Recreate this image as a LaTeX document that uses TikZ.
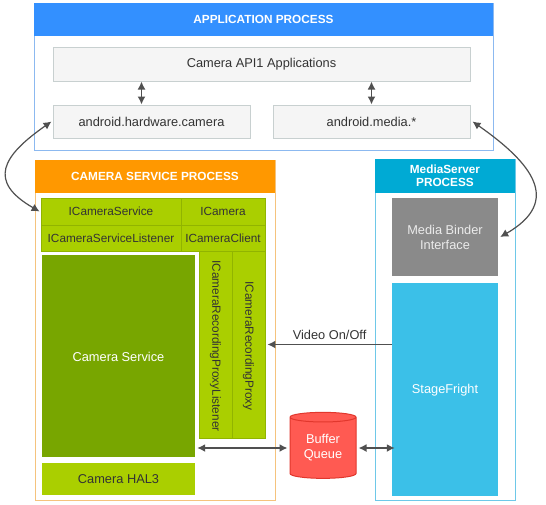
\documentclass[tikz,border=0pt]{standalone}
\usepackage{fontspec}
\setmainfont{Liberation Sans}
\usetikzlibrary{shapes.geometric,arrows.meta}

\definecolor{appblue}{RGB}{51,144,255}
\definecolor{appline}{RGB}{140,185,240}
\definecolor{appbox}{RGB}{245,245,245}
\definecolor{appboxline}{RGB}{200,208,208}
\definecolor{camorange}{RGB}{255,152,0}
\definecolor{camline}{RGB}{245,195,125}
\definecolor{lime}{RGB}{170,207,0}
\definecolor{limeline}{RGB}{145,180,0}
\definecolor{darkgreen}{RGB}{120,166,0}
\definecolor{mediacyan}{RGB}{0,170,212}
\definecolor{medialine}{RGB}{110,200,232}
\definecolor{bindergray}{RGB}{138,138,138}
\definecolor{sfblue}{RGB}{59,192,232}
\definecolor{bufred}{RGB}{255,90,82}
\definecolor{bufline}{RGB}{225,55,45}
\definecolor{txt}{RGB}{51,51,51}
\definecolor{wire}{RGB}{80,80,80}

\tikzset{
  procbox/.style={draw=#1, line width=1pt, inner sep=0pt},
  prochead/.style={fill=#1, draw=none, anchor=north, inner sep=0pt, text=white,
    font=\fontsize{11.8}{13.5}\selectfont\bfseries, align=center},
  appbox/.style={fill=appbox, draw=appboxline, line width=1pt, inner sep=0pt, text=txt,
    font=\fontsize{12.8}{15}\selectfont},
  limebox/.style={fill=lime, draw=limeline, line width=0.8pt, inner sep=0pt, text=txt,
    font=\fontsize{11.8}{14}\selectfont},
  limetext/.style={text=txt, inner sep=0pt, font=\fontsize{11.8}{14}\selectfont},
  solidbox/.style={fill=#1, draw=none, inner sep=0pt, text=white, align=center,
    font=\fontsize{12.8}{15}\selectfont},
  whitetext/.style={text=white, inner sep=0pt, font=\fontsize{12.8}{15}\selectfont},
  wirearrow/.style={draw=wire, line width=1.5pt, >={Latex[length=8pt,width=8pt]}},
}

\begin{document}
\begin{tikzpicture}[x=1pt,y=-1pt]
  \useasboundingbox (0,0) rectangle (546,504);

  % application process
  \node[procbox=appline, minimum width=459, minimum height=147] (appproc) at (263.5,76.5) {};
  \node[prochead=appblue, minimum width=459, minimum height=33] (apphead) at (appproc.north) {APPLICATION PROCESS};
  \node[appbox, minimum width=417, minimum height=34] (api1) at (261.5,64) {Camera API1 Applications};
  \node[appbox, minimum width=197, minimum height=33] (hwcam) at (151.5,121.5) {android.hardware.camera};
  \node[appbox, minimum width=197, minimum height=33] (media) at (371.5,121.5) {android.media.*};

  % camera service process
  \node[procbox=camline, minimum width=240, minimum height=340] (camproc) at (155,330) {};
  \node[prochead=camorange, minimum width=240, minimum height=33] (camhead) at (camproc.north) {CAMERA SERVICE PROCESS};
  \node[limebox, minimum width=140, minimum height=27] (icamsvc) at (111,211.5) {ICameraService};
  \node[limebox, minimum width=84, minimum height=27] (icam) at (223,211.5) {ICamera};
  \node[limebox, minimum width=140, minimum height=26] (icamsvclis) at (111,238) {ICameraServiceListener};
  \node[limebox, minimum width=84, minimum height=26] (icamclient) at (223,238) {ICameraClient};
  \node[solidbox=darkgreen, minimum width=153, minimum height=202] (camsvc) at (118.5,356) {};
  \node[whitetext] (camsvclabel) at (118.5,357) {Camera Service};
  \node[limebox, minimum width=33, minimum height=187] (recproxylis) at (215.5,344.5) {};
  \node[limetext, rotate=-90] (recproxylislabel) at (215.5,346) {ICameraRecordingProxyListener};
  \node[limebox, minimum width=33, minimum height=187] (recproxy) at (248.5,344.5) {};
  \node[limetext, rotate=-90] (recproxylabel) at (248.5,346) {ICameraRecordingProxy};
  \node[limebox, draw=none, font=\fontsize{12.8}{15}\selectfont, minimum width=153, minimum height=32] (hal3) at (118.5,479) {Camera HAL3};

  % mediaserver process
  \node[procbox=medialine, minimum width=140, minimum height=341] (mediaproc) at (445,329.5) {};
  \node[prochead=mediacyan, minimum width=140, minimum height=34] (mediahead) at (mediaproc.north) {MediaServer\\PROCESS};
  \node[solidbox=bindergray, minimum width=106, minimum height=78, text=white!92!black] (binder) at (445,237) {Media Binder\\Interface};
  \node[solidbox=sfblue, minimum width=106, minimum height=213] (stagefright) at (445,389.5) {};
  \node[whitetext] (sflabel) at (445,390) {StageFright};

  % buffer queue
  \node[cylinder, shape border rotate=90, aspect=0.25, fill=bufred, draw=bufline, line width=1pt,
    minimum width=66, minimum height=66, inner sep=0pt, text=white, align=center,
    font=\fontsize{12.8}{15}\selectfont] (bufq) at (323,448) {Buffer\\Queue};

  % connectors
  \draw[wirearrow, <->] ([xshift=-10pt]hwcam.north |- api1.south) -- ([xshift=-10pt]hwcam.north);
  \draw[wirearrow, <->] (media.north |- api1.south) -- (media.north);
  \draw[wirearrow, <->, line width=1.2pt] ([xshift=-1pt]hwcam.west) to[out=215, in=150, looseness=1.7] ([xshift=-1pt]icamsvc.west);
  \draw[wirearrow, <->, line width=1.2pt] ([xshift=2pt]media.east) to[out=-35, in=30, looseness=1.55] ([xshift=2pt]binder.east);
  \draw[wirearrow, ->] (stagefright.west |- recproxy.east) -- ([xshift=2pt]recproxy.east)
    node[midway, above=1pt, text=txt, font=\fontsize{12.8}{15}\selectfont] (videolabel) {Video On/Off};
  \draw[wirearrow, <->] ([xshift=2pt]camsvc.east |- bufq.west) -- ([xshift=-2pt]bufq.west);
  \draw[wirearrow, <->] ([xshift=2pt]bufq.east) -- ([xshift=3pt]stagefright.west |- bufq.east);
\end{tikzpicture}
\end{document}
